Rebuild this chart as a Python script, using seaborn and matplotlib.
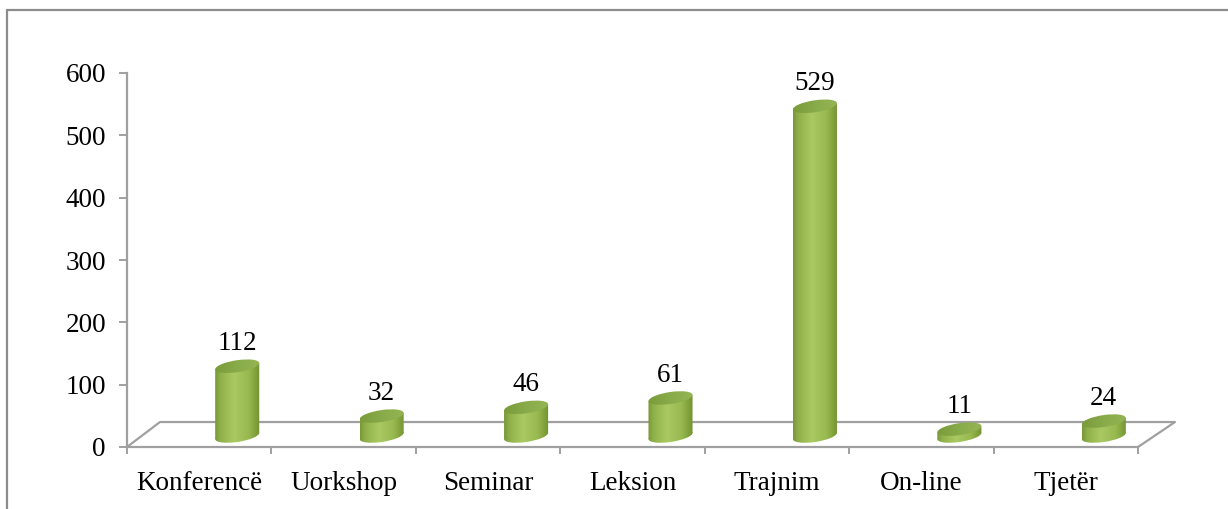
import numpy as np
import pandas as pd
import matplotlib
matplotlib.use("Agg")
import matplotlib.pyplot as plt
import matplotlib.transforms as mtransforms
from matplotlib.patches import Ellipse
from matplotlib.colors import LinearSegmentedColormap
from matplotlib.lines import Line2D
import seaborn as sns

# ---- data ----
categories = ["Konferencë", "Uorkshop", "Seminar", "Leksion", "Trajnim", "On-line", "Tjetër"]
values = [112, 32, 46, 61, 529, 11, 24]
y_ticks = [0, 100, 200, 300, 400, 500, 600]

# ---- figure geometry (pixels) ----
W, H, DPI = 1228, 509, 100
AX_L, AX_R, AX_TOP, AX_BOT = 127, 1138, 73, 447   # plot area of value axis
YMAX = 600
SCALE = (AX_BOT - AX_TOP) / YMAX                  # px per unit
DX, DY = 38, 11                                   # 3-D shift of the bars
BAR_W = 0.305
ELL_W, ELL_H, SKEW = 44, 12, 8                    # cylinder cap ellipse (px), tilt (deg)
GRAY = "#a0a0a0"
FS = 19.5

sns.set_theme(style="white")
plt.rcParams['font.family'] = ['Liberation Serif', 'DejaVu Serif']

fig = plt.figure(figsize=(W / DPI, H / DPI), dpi=DPI)
fig.patch.set_facecolor("white")


def px_rect(x0, y_top, x1, y_bottom):
    return [x0 / W, 1 - y_bottom / H, (x1 - x0) / W, (y_bottom - y_top) / H]


# main axes (value axis + floor)
ax = fig.add_axes(px_rect(AX_L, AX_TOP, AX_R, AX_BOT))
ax.set_facecolor("none")

# bar axes, shifted for the 3-D look, with some room under zero
LOW, HIGH = -30, 620
base_px = AX_BOT - DY
axb = fig.add_axes(px_rect(AX_L + DX, base_px - HIGH * SCALE, AX_R + DX, base_px - LOW * SCALE))
axb.set_facecolor("none")

df = pd.DataFrame({"category": categories, "value": values})
sns.barplot(data=df, x="category", y="value", ax=axb, width=BAR_W,
            color="#9bbb59", saturation=1, edgecolor="none", zorder=2)
axb.set_xlim(-0.5, len(categories) - 0.5)
axb.set_ylim(LOW, HIGH)
axb.autoscale(False)

body_cmap = LinearSegmentedColormap.from_list(
    "body", [(0, "#789837"), (0.12, "#8fb04a"), (0.42, "#aac962"),
             (0.75, "#98b850"), (1.0, "#72922f")])
top_cmap = LinearSegmentedColormap.from_list(
    "top", [(0, "#7b9b3b"), (0.5, "#8aab4a"), (1.0, "#95b554")])
grad = np.linspace(0, 1, 256)[None, :]

pad_units = (ELL_H / 2 + 8) / SCALE
skew_t = mtransforms.Affine2D().skew_deg(0, SKEW)

bars = list(axb.patches)[:len(values)]
for patch, v in zip(bars, values):
    x0 = patch.get_x()
    w = patch.get_width()
    xc = x0 + w / 2
    xc_disp = axb.transData.transform((xc, 0))[0]
    shear_disp = (mtransforms.Affine2D().translate(-xc_disp, 0)
                  .skew_deg(0, SKEW).translate(xc_disp, 0))
    patch.set_transform(axb.transData + shear_disp)
    patch.set_facecolor("none")
    # body gradient (sheared cylinder side)
    im = axb.imshow(grad, extent=[x0, x0 + w, -pad_units, v + pad_units], aspect="auto",
                    cmap=body_cmap, interpolation="bicubic", zorder=2)
    im.set_clip_path(patch.get_path(), patch.get_transform())
    # bottom cap
    tb = skew_t + fig.dpi_scale_trans + mtransforms.ScaledTranslation(xc, 0, axb.transData)
    eb = Ellipse((0, 0), ELL_W / DPI, ELL_H / DPI, transform=tb,
                 facecolor="none", edgecolor="none")
    axb.add_patch(eb)
    imb = axb.imshow(grad, extent=[x0, x0 + w, -pad_units, pad_units],
                     aspect="auto", cmap=body_cmap, interpolation="bicubic", zorder=1.9)
    imb.set_clip_path(eb)
    # top cap
    tt = skew_t + fig.dpi_scale_trans + mtransforms.ScaledTranslation(xc, v, axb.transData)
    et = Ellipse((0, 0), ELL_W / DPI, ELL_H / DPI, transform=tt,
                 facecolor="none", edgecolor="none")
    axb.add_patch(et)
    imt = axb.imshow(grad, extent=[x0, x0 + w, v - pad_units, v + pad_units],
                     aspect="auto", cmap=top_cmap, interpolation="bicubic", zorder=3)
    imt.set_clip_path(et)
    # value label
    axb.annotate(str(v), xy=(xc, v), xytext=(0, 11.5), textcoords="offset points",
                 ha="center", va="baseline", fontsize=FS, color="black", zorder=4)

axb.set_xlim(-0.5, len(categories) - 0.5)
axb.set_ylim(LOW, HIGH)
axb.set_axis_off()

# ---- main axes styling ----
ax.set_xlim(-0.5, len(categories) - 0.5)
ax.set_ylim(0, YMAX)
ax.set_yticks(y_ticks)
ax.set_yticklabels([str(t) for t in y_ticks], fontsize=FS)
ax.set_xticks(np.arange(-0.5, len(categories), 1.0))
ax.set_xticklabels([])
ax.set_xticks(range(len(categories)), minor=True)
ax.set_xticklabels(categories, minor=True, fontsize=FS)
for side in ["top", "right"]:
    ax.spines[side].set_visible(False)
for side in ["left", "bottom"]:
    ax.spines[side].set_color(GRAY)
    ax.spines[side].set_linewidth(1.6)
ax.tick_params(axis="y", which="major", direction="out", length=5.8, width=1.4,
               color=GRAY, pad=9.4, labelcolor="black", left=True)
ax.tick_params(axis="x", which="major", direction="out", length=5, width=1.4,
               color=GRAY, bottom=True)
ax.tick_params(axis="x", which="minor", length=0, pad=17, labelcolor="black", bottom=True)

# floor (3-D base plane outline)
ax.plot([0, 0.0326, 1.0366, 1.0], [0, 0.0668, 0.0668, 0], transform=ax.transAxes,
        color=GRAY, lw=1.6, clip_on=False, zorder=0.5)

# outer chart frame (partially visible)
fig.add_artist(Line2D([7 / W, 7 / W], [0, 1 - 10 / H], transform=fig.transFigure,
                      color="#8c8c8c", lw=1.6))
fig.add_artist(Line2D([7 / W, 1], [1 - 10 / H, 1 - 10 / H], transform=fig.transFigure,
                      color="#8c8c8c", lw=1.6))

fig.savefig("out.png", dpi=DPI, facecolor="white")
